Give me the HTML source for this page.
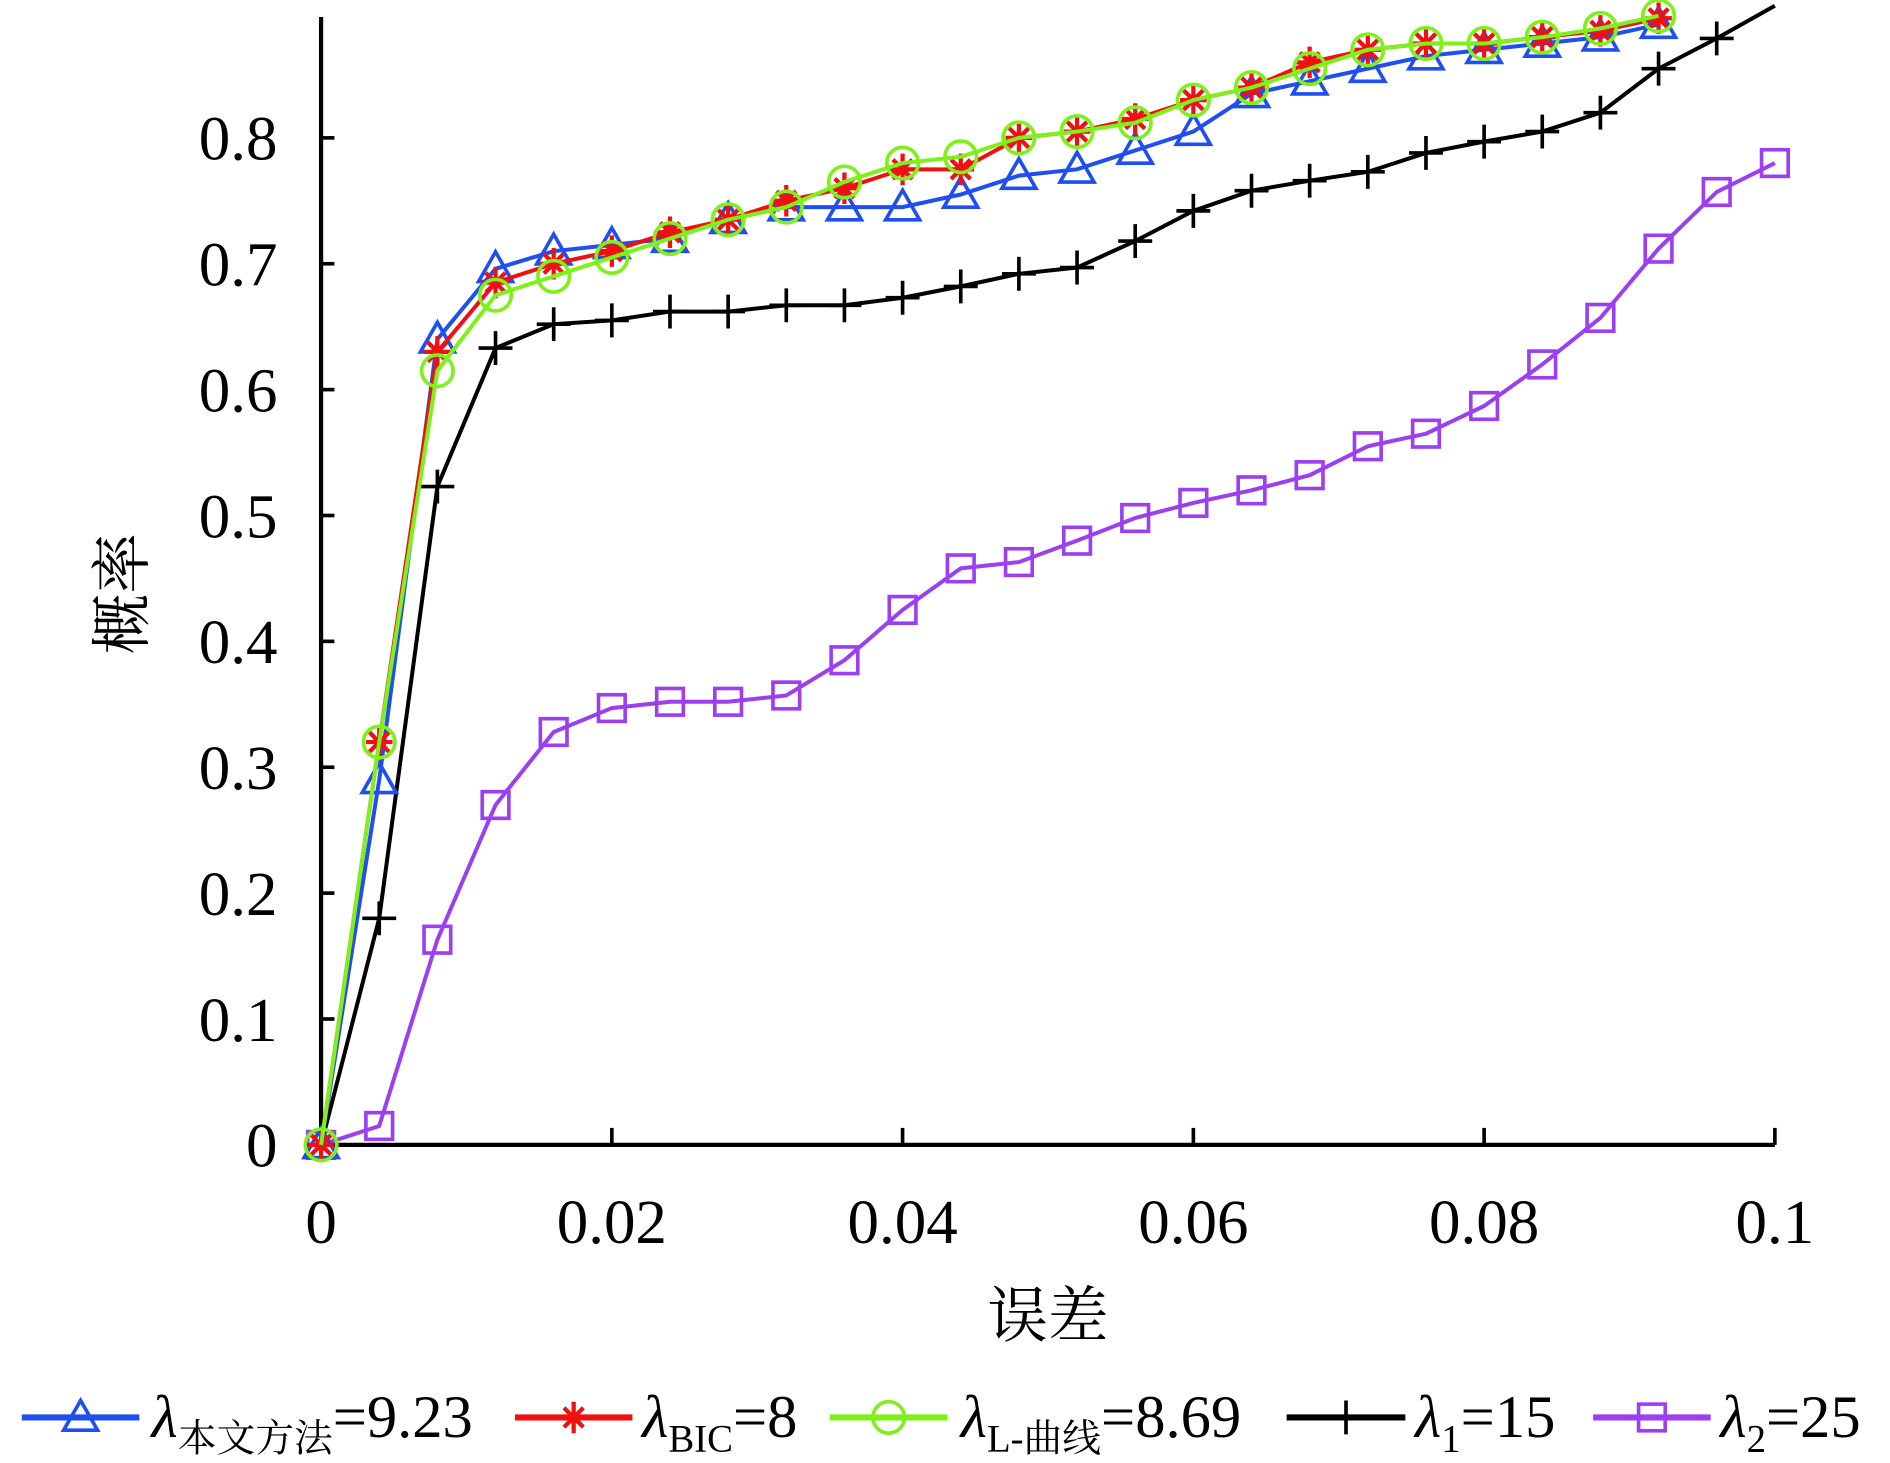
<!DOCTYPE html>
<html><head><meta charset="utf-8"><style>
html,body{margin:0;padding:0;background:#fff;}
svg{display:block;font-family:"Liberation Serif","Times New Roman","Noto Serif CJK SC",serif;}
text,tspan{font-family:"Liberation Serif","Times New Roman","Noto Serif CJK SC",serif;fill:#000;}
</style></head><body>
<svg id="chart" width="1890" height="1463" viewBox="0 0 1560 1207.6" xmlns="http://www.w3.org/2000/svg" font-family="Liberation Serif, Noto Serif CJK SC, serif">
<g id="axes"></g>
<g id="series"></g>
<text x="865" y="1103" font-size="50" text-anchor="middle">误差</text>
<text transform="translate(118,490) rotate(-90)" font-size="50" text-anchor="middle">概率</text>
<g id="legend"></g>
</svg>
<script>
const xValues = [0,0.004,0.008,0.012,0.016,0.02,0.024,0.028,0.032,0.036,0.04,0.044,0.048,0.052,0.056,0.06,0.064,0.068,0.072,0.076,0.08,0.084,0.088,0.092,0.096,0.1];
const blueVals = [0,0.29,0.64,0.696,0.71,0.715,0.72,0.735,0.745,0.745,0.745,0.755,0.77,0.775,0.79,0.805,0.835,0.845,0.855,0.865,0.87,0.875,0.88,0.89];
const redVals = [0,0.32,0.63,0.685,0.70,0.71,0.725,0.735,0.75,0.76,0.775,0.775,0.80,0.805,0.815,0.83,0.84,0.86,0.87,0.875,0.875,0.88,0.885,0.895];
const greenVals = [0,0.32,0.615,0.675,0.69,0.705,0.72,0.735,0.745,0.765,0.78,0.785,0.80,0.805,0.812,0.83,0.84,0.855,0.87,0.875,0.875,0.88,0.887,0.897];
const blackVals = [0,0.18,0.523,0.633,0.652,0.655,0.662,0.662,0.667,0.667,0.673,0.682,0.692,0.697,0.718,0.742,0.758,0.766,0.773,0.788,0.797,0.805,0.82,0.855,0.879,0.905];
const purpleVals = [0,0.015,0.163,0.27,0.328,0.347,0.352,0.352,0.357,0.385,0.425,0.458,0.463,0.48,0.498,0.51,0.52,0.532,0.555,0.565,0.587,0.62,0.657,0.712,0.757,0.78];
const xTicks = [0,0.02,0.04,0.06,0.08,0.1];
const xTickLabels = ["0","0.02","0.04","0.06","0.08","0.1"];
const yTicks = [0,0.1,0.2,0.3,0.4,0.5,0.6,0.7,0.8];
const yTickLabels = ["0","0.1","0.2","0.3","0.4","0.5","0.6","0.7","0.8"];

const NS="http://www.w3.org/2000/svg";
const X0=265,X1=1465,Y0=945,YTOP=14;
function sx(v){return X0+v/0.1*(X1-X0);}
function sy(v){return Y0-v*1039;}
function mk(tag,attrs,parent){const e=document.createElementNS(NS,tag);for(const k in attrs)e.setAttribute(k,attrs[k]);parent.appendChild(e);return e;}

const axes=document.getElementById('axes');
let yl=mk('line',{x1:X0,y1:YTOP,x2:X0,y2:Y0+2,stroke:'#000','stroke-width':3.5},axes);


let xl=mk('line',{x1:X0-2,y1:Y0,x2:X1,y2:Y0,stroke:'#000','stroke-width':3.5},axes);


xTicks.forEach((t,i)=>{
  if(i>0){const tk=mk('line',{x1:sx(t),y1:Y0,x2:sx(t),y2:Y0-14,stroke:'#000','stroke-width':3},axes);
  
  }
  const tx=mk('text',{x:sx(t),y:Y0+81,'font-size':52,'text-anchor':'middle'},axes);
  tx.textContent=xTickLabels[i];
  
  
});
yTicks.forEach((t,i)=>{
  if(i>0){const tk=mk('line',{x1:X0,y1:sy(t),x2:X0+11,y2:sy(t),stroke:'#000','stroke-width':3},axes);
  
  }
  const tx=mk('text',{x:229,y:sy(t)+18,'font-size':52,'text-anchor':'end'},axes);
  tx.textContent=yTickLabels[i];
  
  
});

function marker(type,x,y,color,parent){
  const r=14;let g;
  if(type==='tri') g=mk('polygon',{points:`${x},${y-r} ${x-r},${y+r*0.75} ${x+r},${y+r*0.75}`,fill:'none',stroke:color,'stroke-width':3},parent);
  else if(type==='circ') g=mk('circle',{cx:x,cy:y,r:13,fill:'none',stroke:color,'stroke-width':3},parent);
  else if(type==='sq') g=mk('rect',{x:x-11,y:y-11,width:22,height:22,fill:'none',stroke:color,'stroke-width':3},parent);
  else if(type==='plus') g=mk('path',{d:`M${x-r},${y}H${x+r}M${x},${y-r}V${y+r}`,stroke:color,'stroke-width':3},parent);
  else if(type==='star') g=mk('path',{d:`M${x-11},${y}H${x+11}M${x},${y-13}V${y+13}M${x-8},${y-8}L${x+8},${y+8}M${x-8},${y+8}L${x+8},${y-8}`,stroke:color,'stroke-width':3.5},parent);
  return g;
}
const seriesDefs=[
 {name:'series-lambda2',vals:purpleVals,color:'#9b3ff0',m:'sq',n:26},
 {name:'series-lambda1',vals:blackVals,color:'#000',m:'plus',n:25},
 {name:'series-blue-method',vals:blueVals,color:'#1f4ff0',m:'tri',n:24},
 {name:'series-bic',vals:redVals,color:'#f01010',m:'star',n:24},
 {name:'series-l-curve',vals:greenVals,color:'#7ef01a',m:'circ',n:24},
];
const sg=document.getElementById('series');
seriesDefs.forEach(s=>{
  const g=mk('g',{},sg);
  
  
  const pts=s.vals.map((v,i)=>sx(xValues[i])+','+sy(v)).join(' ');
  const pl=mk('polyline',{points:pts,fill:'none',stroke:s.color,'stroke-width':3.3},g);
  
  
  s.vals.forEach((v,i)=>{ if(i<s.n){const m=marker(s.m,sx(xValues[i]),sy(v),s.color,g);
    
    }});
});

const lg=document.getElementById('legend');
const legendItems=[
 {x1:18,x2:115,color:'#1f4ff0',m:'tri',tx:125,sub:'本文方法',rest:'=9.23'},
 {x1:425,x2:522,color:'#f01010',m:'star',tx:530,sub:'BIC',rest:'=8'},
 {x1:685,x2:782,color:'#7ef01a',m:'circ',tx:793,sub:'L-曲线',rest:'=8.69'},
 {x1:1062,x2:1160,color:'#000',m:'plus',tx:1168,sub:'1',rest:'=15'},
 {x1:1315,x2:1412,color:'#9b3ff0',m:'sq',tx:1420,sub:'2',rest:'=25'},
];
const LY=1170;
const FF='"Liberation Serif","Noto Serif CJK SC",serif';
legendItems.forEach(it=>{
  const g=mk('g',{},lg);
  
  
  mk('line',{x1:it.x1,y1:LY,x2:it.x2,y2:LY,stroke:it.color,'stroke-width':5},g);
  marker(it.m,(it.x1+it.x2)/2,LY,it.color,g);
  const t=mk('text',{x:it.tx,y:LY+16,'font-size':50,'font-family':FF},g);
  const a=mk('tspan',{'font-style':'italic','font-family':FF},t);a.textContent='λ';
  const b=mk('tspan',{'font-size':32,dy:12,'font-family':FF},t);b.textContent=it.sub;
  const c=mk('tspan',{dy:-12,'font-family':FF},t);c.textContent=it.rest;
});
</script>
</body></html>
